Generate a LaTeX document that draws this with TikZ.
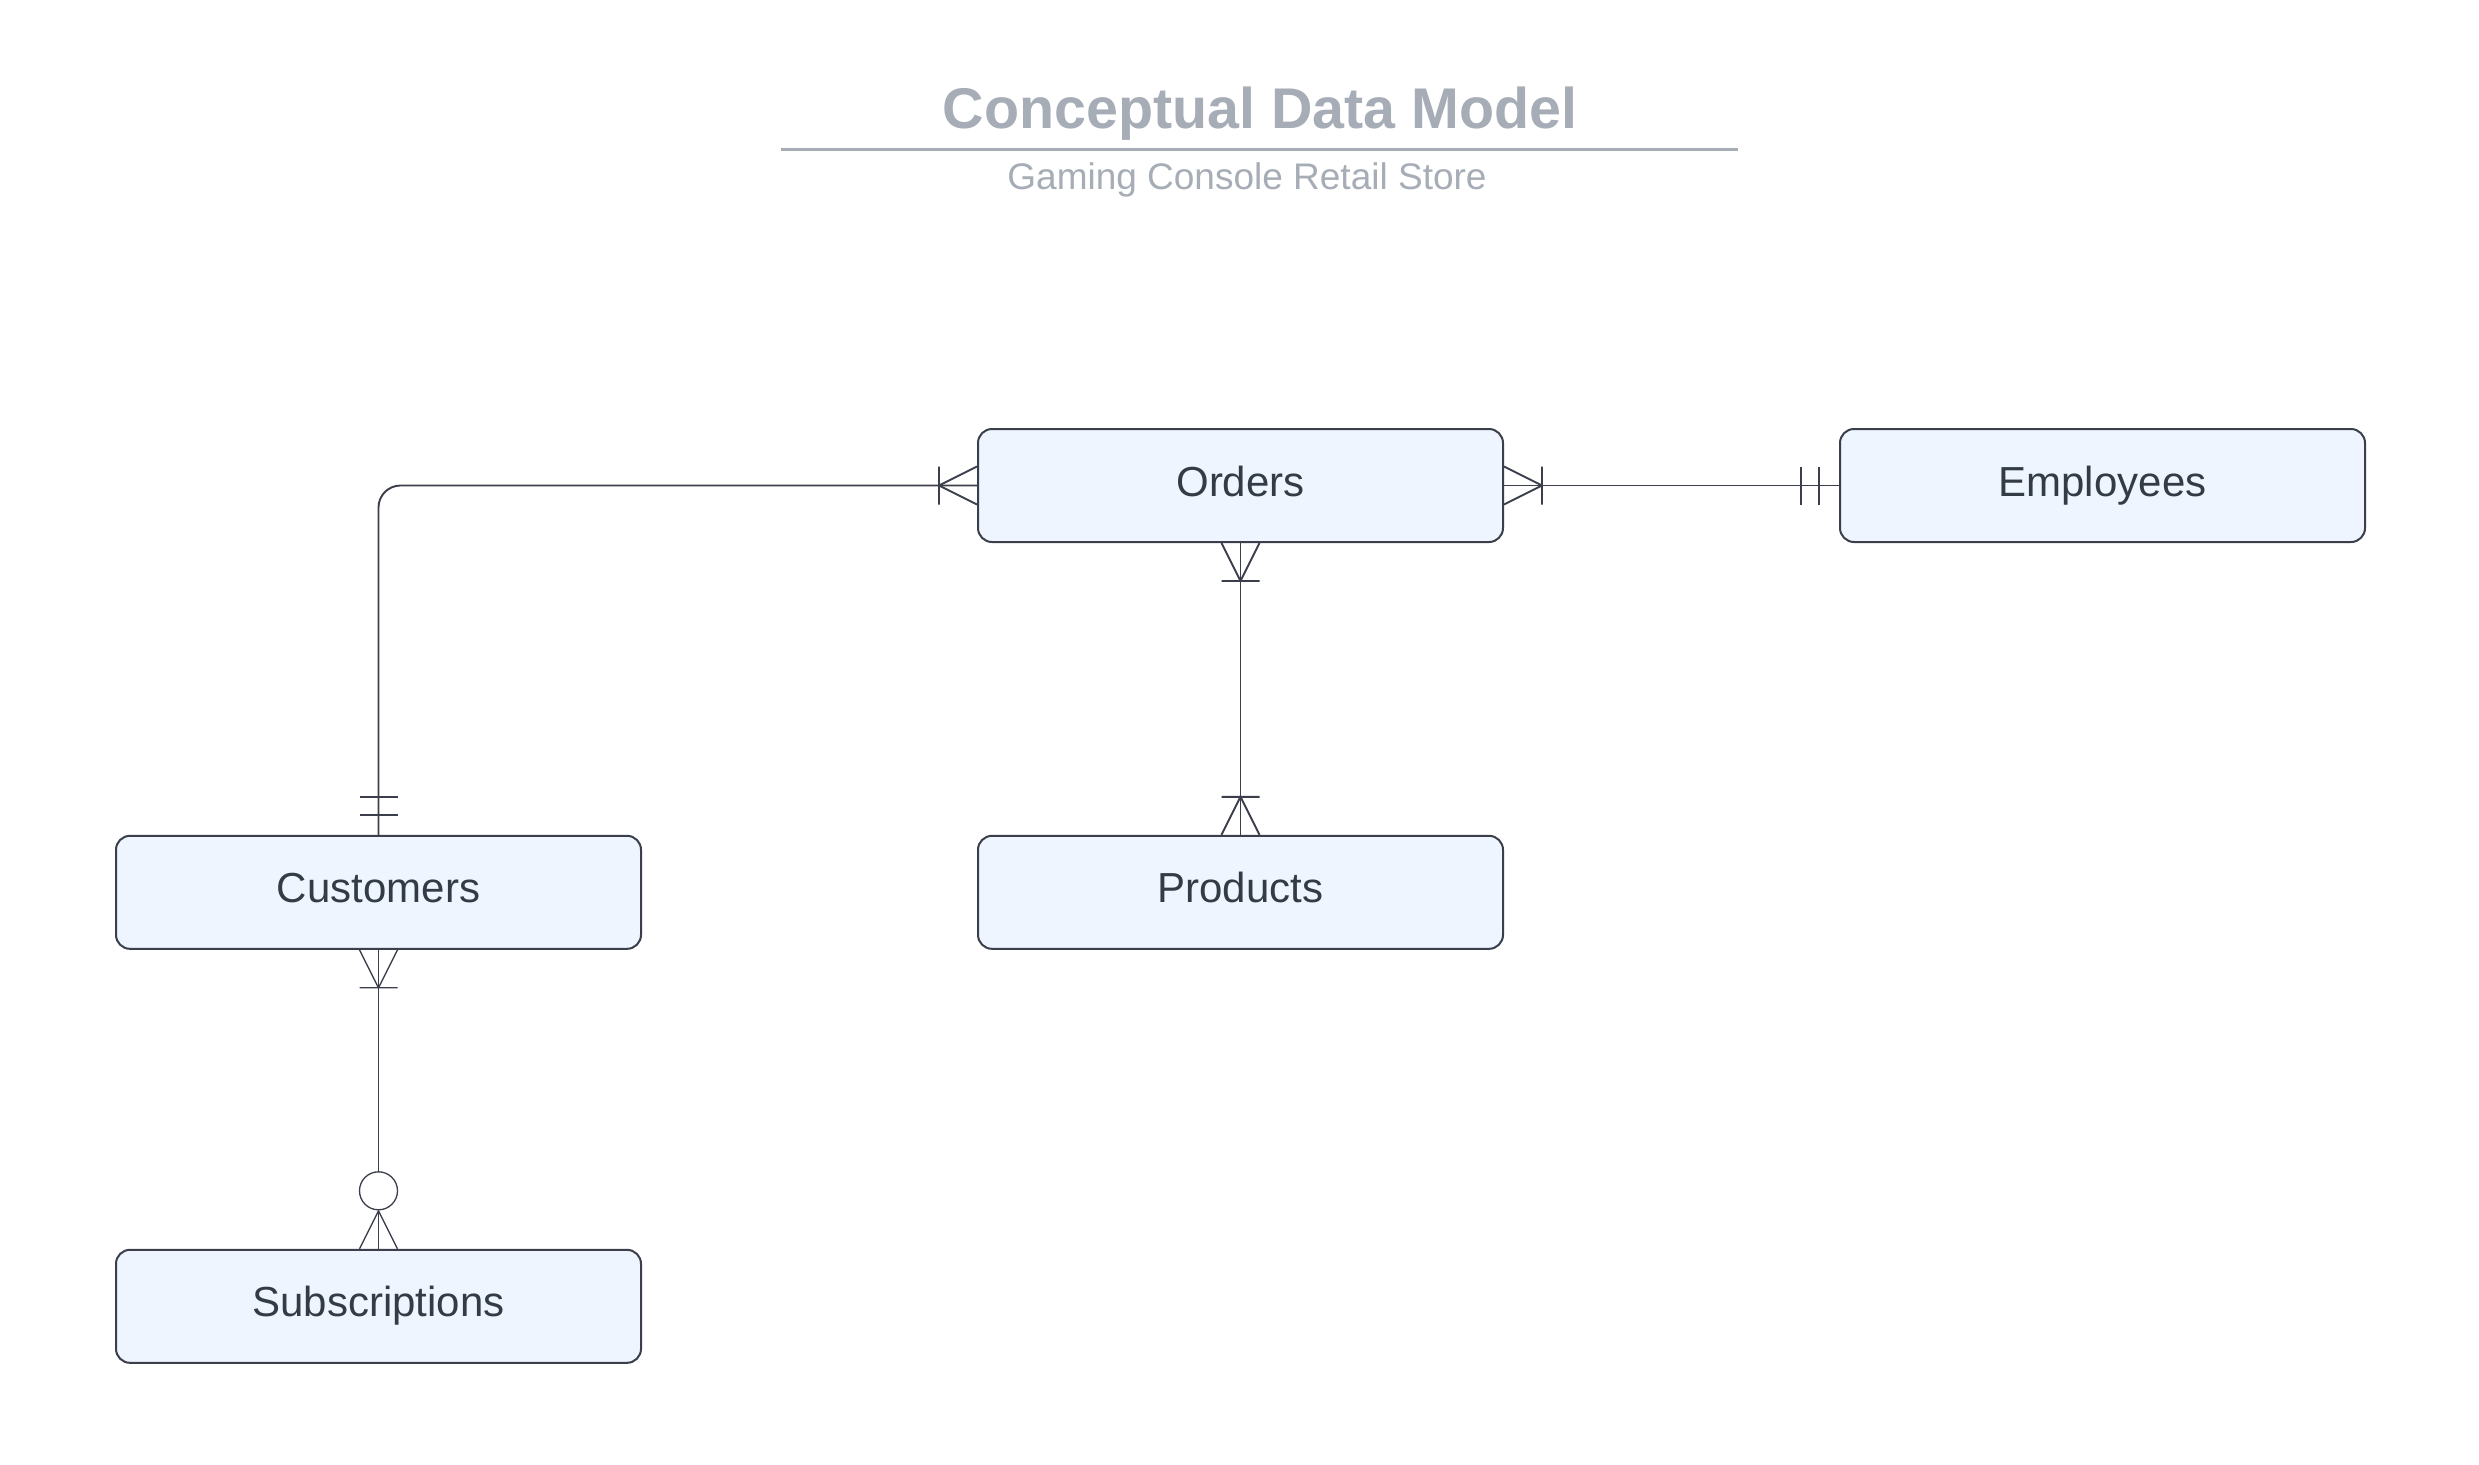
\documentclass[tikz,border=0pt]{standalone}
\usepackage{fontspec}
\setmainfont{Liberation Sans}

\definecolor{entityfill}{HTML}{EEF5FE}
\definecolor{entityline}{HTML}{3A3F4B}
\definecolor{labeltext}{HTML}{323B46}
\definecolor{titlegray}{HTML}{A6ADB6}

\begin{document}
\begin{tikzpicture}[x=0.5pt, y=-0.5pt, node distance={431pt},
        entity/.style={draw=entityline, fill=entityfill, line width=1pt, rounded corners=7pt, minimum width=262.5pt, minimum height=56.5pt, text=labeltext, font=\fontsize{21}{25}\selectfont, text height=13pt, text depth=2.5pt},
        rel/.style={entityline, line width=0.95pt},
        thinrel/.style={rel, line width=0.65pt},
        pics/onemany/.style={code={\draw (0pt,9.5pt) -- (19pt,0pt) -- (0pt,-9.5pt) (19pt,9.5pt) -- (19pt,-9.5pt);}},
        pics/onlyone/.style={code={\draw (10pt,9.5pt) -- (10pt,-9.5pt) (19pt,9.5pt) -- (19pt,-9.5pt);}},
        pics/zeromany/.style={code={\draw (0pt,9.5pt) -- (19pt,0pt) -- (0pt,-9.5pt); \draw[fill=white] (29pt,0pt) circle (9.5pt);}}]
    \fill[white] (0,0) rectangle (2479,1464);
    \useasboundingbox (0,0) rectangle (2479,1464);
        \node[font=\bfseries\fontsize{28.7}{34}\selectfont, text=titlegray, anchor=base] (title) at (1260,128.3) {Conceptual Data Model};
        \draw[titlegray, line width=1.9pt] (781,149.5) -- (1738,149.5);
        \node[font=\fontsize{18.5}{22}\selectfont, text=titlegray, anchor=base] (subtitle) at (1247,189) {Gaming Console Retail Store};
        \node[entity] (orders) at (1240.5,485.5) {Orders};
        \node[entity] (employees) [right of=orders] {Employees};
        \node[entity] (products) [below of=orders, yshift=227.6pt] {Products};
        \node[entity] (customers) [left of=products] {Customers};
        \node[entity] (subscriptions) [below of=customers, yshift=224pt] {Subscriptions};
        \draw[rel, rounded corners=11pt] (customers.north) |- (orders.west);
        \draw[rel] (orders.east) -- (employees.west);
        \draw[rel] (orders.south) -- (products.north);
        \draw[thinrel] (customers.south) -- (subscriptions.north);
        \pic[rel, rotate=90] at (customers.north) {onlyone};
        \pic[rel, rotate=180] at (orders.west) {onemany};
        \pic[rel] at (orders.east) {onemany};
        \pic[rel, rotate=180] at (employees.west) {onlyone};
        \pic[rel, rotate=-90] at (orders.south) {onemany};
        \pic[rel, rotate=90] at (products.north) {onemany};
        \pic[thinrel, rotate=-90] at (customers.south) {onemany};
        \pic[thinrel, rotate=90] at (subscriptions.north) {zeromany};
    \end{tikzpicture}
\end{document}
